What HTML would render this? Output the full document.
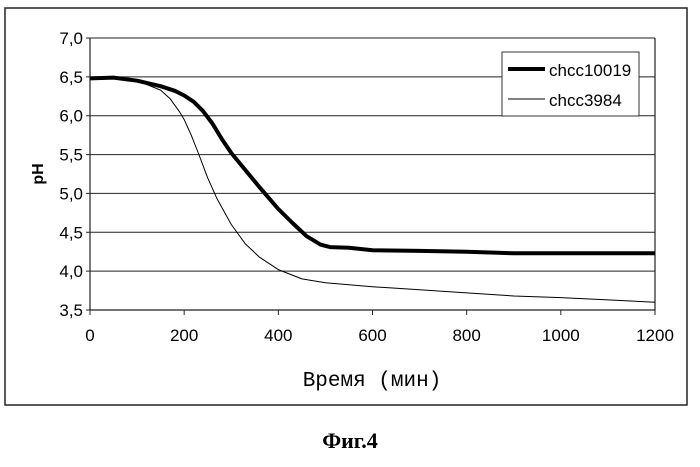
<!DOCTYPE html>
<html><head><meta charset="utf-8"><style>
body{margin:0;background:#fff;}
svg{display:block;font-family:"Liberation Sans",sans-serif;}
</style></head><body>
<svg id="c" width="700" height="467">
<rect x="5" y="8" width="682" height="397" fill="none" stroke="#222" stroke-width="1.5"/>
<g id="grid"></g><g id="axes"></g><g id="series"></g>
<text x="43" y="174" transform="rotate(-90 43 174)" text-anchor="middle" font-size="16" font-weight="bold">pH</text>
<text x="372" y="386" text-anchor="middle" font-family="Liberation Mono, monospace" font-size="21">Время (мин)</text>
<g>
<rect x="502" y="52" width="137" height="64" fill="#fff" stroke="#333"/>
<line x1="508" y1="69" x2="545" y2="69" stroke="#000" stroke-width="4"/>
<text x="549" y="76" font-size="17">chcc10019</text>
<line x1="508" y1="99" x2="545" y2="99" stroke="#000" stroke-width="1"/>
<text x="549" y="106" font-size="17">chcc3984</text>
</g>
<text x="350" y="448" text-anchor="middle" font-family="Liberation Serif, serif" font-weight="bold" font-size="22">Фиг.4</text>
</svg>
<script>
const xTicks=[0,200,400,600,800,1000,1200];
const yTicks=[3.5,4.0,4.5,5.0,5.5,6.0,6.5,7.0];
const yTickLabels=["3,5","4,0","4,5","5,0","5,5","6,0","6,5","7,0"];
const t1=[0,50,100,150,180,200,220,240,260,280,300,330,360,400,430,460,490,510,550,600,700,800,900,1000,1200];
const ph1=[6.48,6.49,6.45,6.38,6.32,6.26,6.18,6.06,5.9,5.7,5.52,5.3,5.08,4.8,4.62,4.45,4.34,4.31,4.3,4.27,4.26,4.25,4.23,4.23,4.23];
const t2=[0,50,100,150,170,190,200,215,230,250,270,300,330,360,400,450,500,600,700,800,900,1000,1100,1200];
const ph2=[6.48,6.49,6.45,6.33,6.22,6.05,5.95,5.75,5.52,5.2,4.93,4.6,4.35,4.18,4.02,3.9,3.85,3.8,3.76,3.72,3.68,3.66,3.63,3.6];
const X0=90,X1=655,Y0=310,Y1=38;
const xs=v=>X0+(v-0)/1200*(X1-X0);
const ys=v=>Y0-(v-3.5)/3.5*(Y0-Y1);
const NS="http://www.w3.org/2000/svg";
function mk(tag,attrs,parent){const e=document.createElementNS(NS,tag);for(const k in attrs)e.setAttribute(k,attrs[k]);parent.appendChild(e);return e;}
const grid=document.getElementById('grid'),axes=document.getElementById('axes'),ser=document.getElementById('series');
yTicks.forEach((v,i)=>{
 const l=mk('line',{x1:X0-4,x2:X1,y1:ys(v),y2:ys(v),stroke:'#222','stroke-width':1},grid);
 
 
 const t=mk('text',{x:X0-7,y:ys(v)+6,'text-anchor':'end','font-size':17},axes);
 t.textContent=yTickLabels[i];
 
 
});
xTicks.forEach(v=>{
 const l=mk('line',{x1:xs(v),x2:xs(v),y1:Y0,y2:Y0+5,stroke:'#222'},axes);
 
 
 const t=mk('text',{x:xs(v),y:Y0+31,'text-anchor':'middle','font-size':17},axes);
 t.textContent=v;
 
 
});
const ax=mk('path',{d:`M${X0},${Y1}V${Y0}H${X1}V${Y1}`,fill:'none',stroke:'#222','stroke-width':1.2},axes);


function line(t,p,w,name){
 const d=t.map((v,i)=>(i?'L':'M')+xs(v).toFixed(1)+','+ys(p[i]).toFixed(1)).join('');
 const e=mk('path',{d:d,fill:'none',stroke:'#000','stroke-width':w,'stroke-linejoin':'round'},ser);
 
 
}
line(t2,ph2,1,'series-chcc3984');
line(t1,ph1,4,'series-chcc10019');
</script>
</body></html>
